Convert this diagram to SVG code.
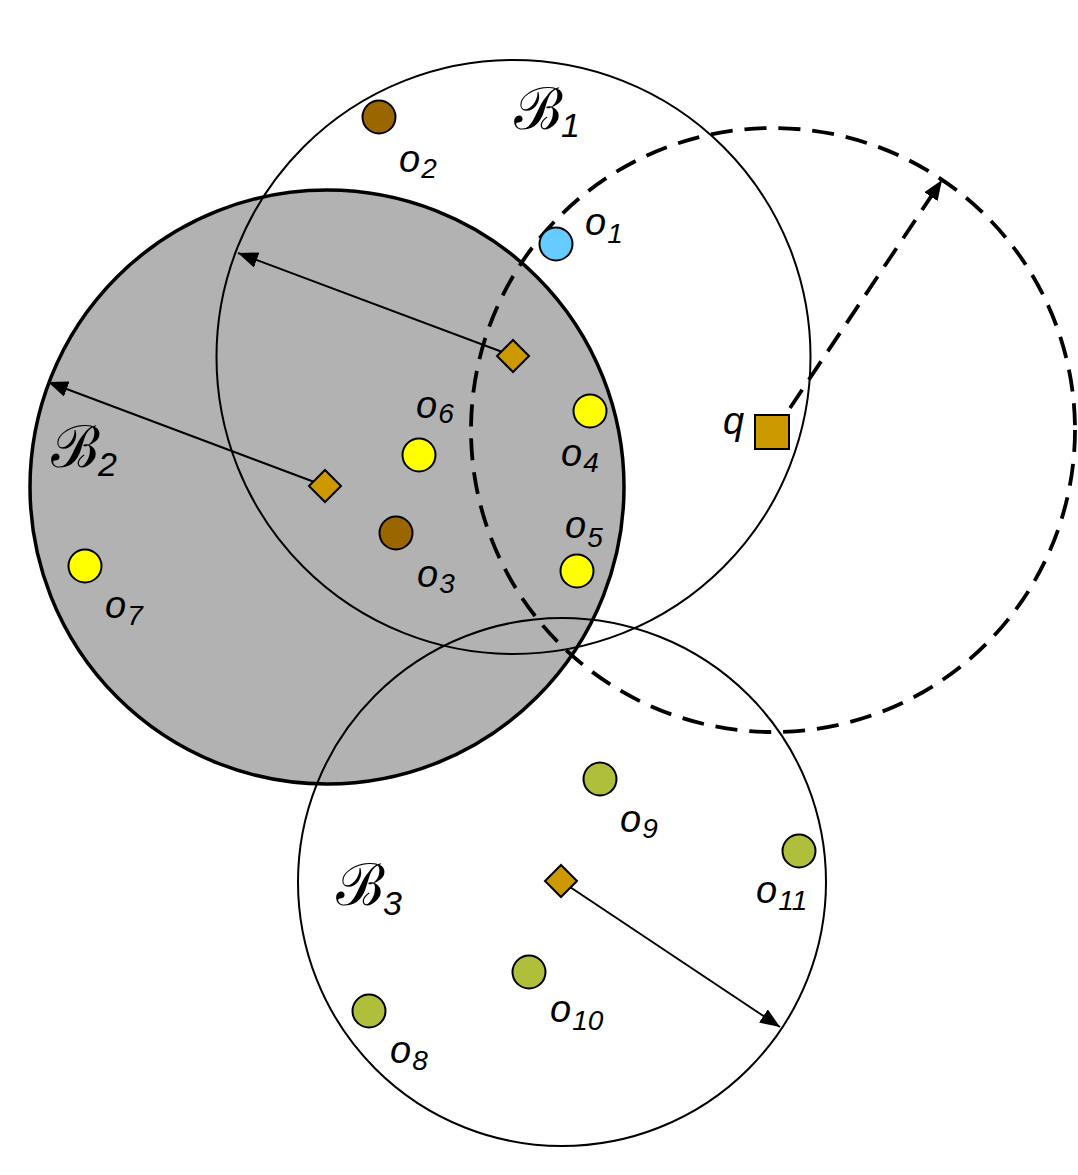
<svg xmlns="http://www.w3.org/2000/svg" width="1078" height="1175" viewBox="0 0 1078 1175">
<style>
.ball{fill:none;stroke:#000;stroke-width:2}
.dot{stroke:#000;stroke-width:2}
.lbl{font-family:"Liberation Sans",Arial,sans-serif;font-style:italic;font-size:38px;fill:#000}
.sub{font-size:28px}
.cal{font-family:"DejaVu Serif","Liberation Serif",serif;font-style:normal;font-size:58px;fill:#000}
.bsub{font-family:"Liberation Sans",Arial,sans-serif;font-style:italic;font-size:34px}
.piv{fill:#cc9900;stroke:#000;stroke-width:2}
.arr{stroke:#000;stroke-width:2;fill:none}
</style>
<defs>
<marker id="ah" markerUnits="userSpaceOnUse" markerWidth="22" markerHeight="16" refX="20" refY="8" orient="auto">
<path d="M0,0 L20,8 L0,16 Z" fill="#000"/>
</marker>
</defs>
<rect width="1078" height="1175" fill="#fff"/>
<g id="B2">
<circle cx="327" cy="487" r="297" fill="#b2b2b2" stroke="#000" stroke-width="3.5"/>
</g>
<g id="B1">
<circle class="ball" cx="513.5" cy="357" r="297"/>
</g>
<g id="B3">
<circle class="ball" cx="562" cy="882" r="264"/>
</g>
<g id="range">
<circle cx="773" cy="430" r="302" fill="none" stroke="#000" stroke-width="3.8" stroke-dasharray="22,12"/>
</g>
<g id="connectors">
<line class="arr" x1="513" y1="356" x2="238" y2="253" marker-end="url(#ah)"/>
<line class="arr" x1="325" y1="486" x2="48" y2="382" marker-end="url(#ah)"/>
<line class="arr" x1="561" y1="881" x2="780" y2="1027" marker-end="url(#ah)"/>
<line x1="790" y1="408" x2="942" y2="180" stroke="#000" stroke-width="3.8" stroke-dasharray="22,12" marker-end="url(#ah)"/>
</g>
<g id="pivots">
<polygon class="piv" points="513,340 529,356 513,372 497,356"/>
<polygon class="piv" points="325,470 341,486 325,502 309,486"/>
<polygon class="piv" points="561,865 577,881 561,897 545,881"/>
</g>
<g id="q">
<rect class="piv" x="755" y="415" width="34" height="34"/>
<text class="lbl" x="723" y="434">q</text>
</g>
<g id="o1"><circle class="dot" cx="556" cy="244" r="16.5" fill="#66ccff"/><text class="lbl" x="585" y="235">o<tspan class="sub" dx="1" dy="8">1</tspan></text></g>
<g id="o2"><circle class="dot" cx="379" cy="117" r="16.5" fill="#996600"/><text class="lbl" x="399" y="172">o<tspan class="sub" dx="1" dy="6">2</tspan></text></g>
<g id="o3"><circle class="dot" cx="396" cy="533" r="16.5" fill="#996600"/><text class="lbl" x="417" y="587">o<tspan class="sub" dx="1" dy="6">3</tspan></text></g>
<g id="o4"><circle class="dot" cx="590" cy="411" r="16.5" fill="#ffff00"/><text class="lbl" x="561" y="466">o<tspan class="sub" dx="1" dy="6">4</tspan></text></g>
<g id="o5"><circle class="dot" cx="577" cy="571" r="16.5" fill="#ffff00"/><text class="lbl" x="565" y="538">o<tspan class="sub" dx="1" dy="9">5</tspan></text></g>
<g id="o6"><circle class="dot" cx="419" cy="455" r="16.5" fill="#ffff00"/><text class="lbl" x="416" y="418">o<tspan class="sub" dx="1" dy="5">6</tspan></text></g>
<g id="o7"><circle class="dot" cx="85" cy="566" r="16.5" fill="#ffff00"/><text class="lbl" x="105" y="618">o<tspan class="sub" dx="1" dy="7">7</tspan></text></g>
<g id="o8"><circle class="dot" cx="369" cy="1011" r="16.5" fill="#b0bf3b"/><text class="lbl" x="390" y="1063">o<tspan class="sub" dx="1" dy="7">8</tspan></text></g>
<g id="o9"><circle class="dot" cx="600" cy="779" r="16.5" fill="#b0bf3b"/><text class="lbl" x="620" y="832">o<tspan class="sub" dx="1" dy="6">9</tspan></text></g>
<g id="o10"><circle class="dot" cx="529" cy="972" r="16.5" fill="#b0bf3b"/><text class="lbl" x="550" y="1022">o<tspan class="sub" dx="1" dy="8">10</tspan></text></g>
<g id="o11"><circle class="dot" cx="799" cy="851" r="16.5" fill="#b0bf3b"/><text class="lbl" x="756" y="903">o<tspan class="sub" dx="1" dy="7">11</tspan></text></g>
<g id="labels">
<text class="cal" x="514" y="129">ℬ<tspan class="bsub" dx="-2" dy="8">1</tspan></text>
<text class="cal" x="51" y="467">ℬ<tspan class="bsub" dx="-2" dy="9">2</tspan></text>
<text class="cal" x="336" y="905">ℬ<tspan class="bsub" dx="-2" dy="10">3</tspan></text>
</g>
</svg>
